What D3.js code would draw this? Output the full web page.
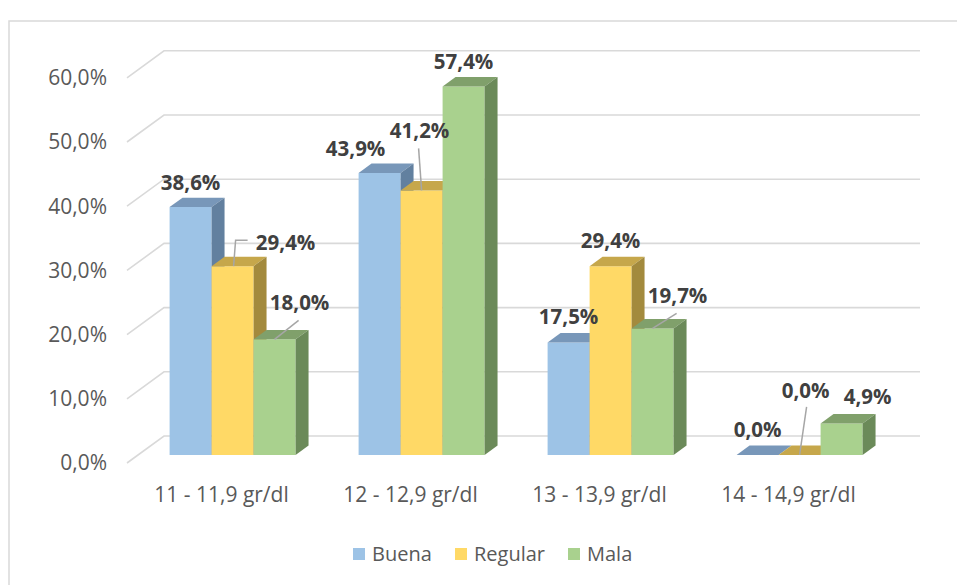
<!DOCTYPE html>
<html><head><meta charset="utf-8">
<script src="https://cdn.jsdelivr.net/npm/d3@7"></script>
<style>body{margin:0;background:#fff;} svg{display:block;}</style>
</head><body>
<svg id="c" width="957" height="585"></svg>
<script>
const categories = ["11 - 11,9 gr/dl","12 - 12,9 gr/dl","13 - 13,9 gr/dl","14 - 14,9 gr/dl"];
const seriesNames = ["Buena","Regular","Mala"];
const buena = [38.6, 43.9, 17.5, 0.0];
const regular = [29.4, 41.2, 29.4, 0.0];
const mala = [18.0, 57.4, 19.7, 4.9];
const yTicks = [0, 10, 20, 30, 40, 50, 60];

const values = [buena, regular, mala];
const frontColors = ["#9dc3e6", "#ffd966", "#a9d18e"];
const topColors = ["#7897b9", "#c6a74b", "#80a06b"];
const sideColors = ["#62809f", "#a38a3d", "#6b8a59"];

// label layout (offsets from bar top front center), leader end offset from label center
const labelLayout = [
  [[0,-24,null],[-24,-24,null],[0,-26,null],[0,-25,null]],
  [[53,-23,"elbow"],[-2,-60,[-1,18]],[0,-25,null],[6,-64,[1,16]]],
  [[25,-37,[-1,18]],[0,-25,null],[25,-33,[-1,18]],[26,-27,null]]
];

const svg = d3.select("#c");
const fmt = v => d3.format(".1f")(v).replace(".", ",") + "%";

// frame
svg.append("rect").attr("x",9).attr("y",21).attr("width",980).attr("height",600)
  .attr("fill","#fff").attr("stroke","#d9d9d9").attr("stroke-width",1.5);

const depthX = 37, depthY = -27;
const proj = (x, y, d) => [x + d*depthX, y + d*depthY];

const y = d3.scaleLinear().domain([0, 60]).range([463, 463 - 6*64.2]);
const x = d3.scaleBand().domain(categories).range([127, 883]).paddingInner(0).paddingOuter(0);
const xs = d3.scaleBand().domain(seriesNames).range([31.5, x.bandwidth() - 31.5]).padding(0);

// gridlines: side wall diagonal + back wall
const grid = svg.append("g").attr("stroke","#d9d9d9").attr("stroke-width",1.6).attr("fill","none");
yTicks.forEach(t => {
  const f = [127, y(t)];
  const b = proj(127, y(t), 1);
  const e = proj(883, y(t), 1);
  grid.append("path").attr("d", d3.line()([f, b, e]));
});

// y tick labels
svg.append("g").selectAll("text").data(yTicks).join("text")
  .attr("x", 107).attr("y", d => y(d)).attr("dy","0.35em")
  .attr("text-anchor","end").attr("font-family","'Open Sans', sans-serif")
  .attr("font-size", 21).attr("fill","#595959").text(d => fmt(d));

// bars
const d0 = 0.3, d1 = 0.65;
const barsG = svg.append("g");
const barGeom = [];
categories.forEach((c, ci) => {
  seriesNames.forEach((s, si) => {
    const v = values[si][ci];
    const x0 = x(c) + xs(s), x1 = x0 + xs.bandwidth();
    const yb = y(0), yt = y(v);
    const A = proj(x0, yt, d0), B = proj(x1, yt, d0), C = proj(x1, yb, d0), D = proj(x0, yb, d0);
    const A2 = proj(x0, yt, d1), B2 = proj(x1, yt, d1), C2 = proj(x1, yb, d1);
    barsG.append("polygon").attr("points", [A,B,C,D].join(" ")).attr("fill", frontColors[si]);
    barsG.append("polygon").attr("points", [A,B,B2,A2].join(" ")).attr("fill", topColors[si]);
    barsG.append("polygon").attr("points", [B,B2,C2,C].join(" ")).attr("fill", sideColors[si]);
    barGeom.push({ci, si, v, cx: (A[0]+B[0])/2, top: A[1]});
  });
});

// data labels + leaders
const lab = svg.append("g");
barGeom.forEach(g => {
  const [dx, dy, leader] = labelLayout[g.si][g.ci];
  const lx = g.cx + dx, ly = g.top + dy;
  if (leader === "elbow") {
    lab.append("path").attr("fill","none").attr("stroke","#a6a6a6").attr("stroke-width",1.5)
      .attr("d", d3.line()([[g.cx+1, g.top], [g.cx+3, ly-3], [g.cx+15, ly-3]]));
  } else if (leader) {
    lab.append("path").attr("fill","none").attr("stroke","#a6a6a6").attr("stroke-width",1.5)
      .attr("d", d3.line()([[g.cx, g.top], [lx+leader[0], ly+leader[1]]]));
  }
  lab.append("text").attr("x", lx).attr("y", ly).attr("dy","0.35em")
    .attr("text-anchor","middle").attr("font-family","'Open Sans', sans-serif")
    .attr("font-weight","bold").attr("font-size", 20.5).attr("fill","#404040")
    .text(fmt(g.v));
});

// category labels
svg.append("g").selectAll("text").data(categories).join("text")
  .attr("x", d => x(d) + x.bandwidth()/2).attr("y", 495).attr("dy","0.35em")
  .attr("text-anchor","middle").attr("font-family","'Open Sans', sans-serif")
  .attr("font-size", 21).attr("fill","#595959").text(d => d);

// legend
const legendX = [353, 455, 568];
const lg = svg.append("g");
seriesNames.forEach((s, i) => {
  lg.append("rect").attr("x", legendX[i]).attr("y", 548).attr("width", 12).attr("height", 12).attr("fill", frontColors[i]);
  lg.append("text").attr("x", legendX[i] + 19).attr("y", 554).attr("dy","0.35em")
    .attr("font-family","'Open Sans', sans-serif").attr("font-size", 20).attr("fill","#595959").text(s);
});
</script>
</body></html>
